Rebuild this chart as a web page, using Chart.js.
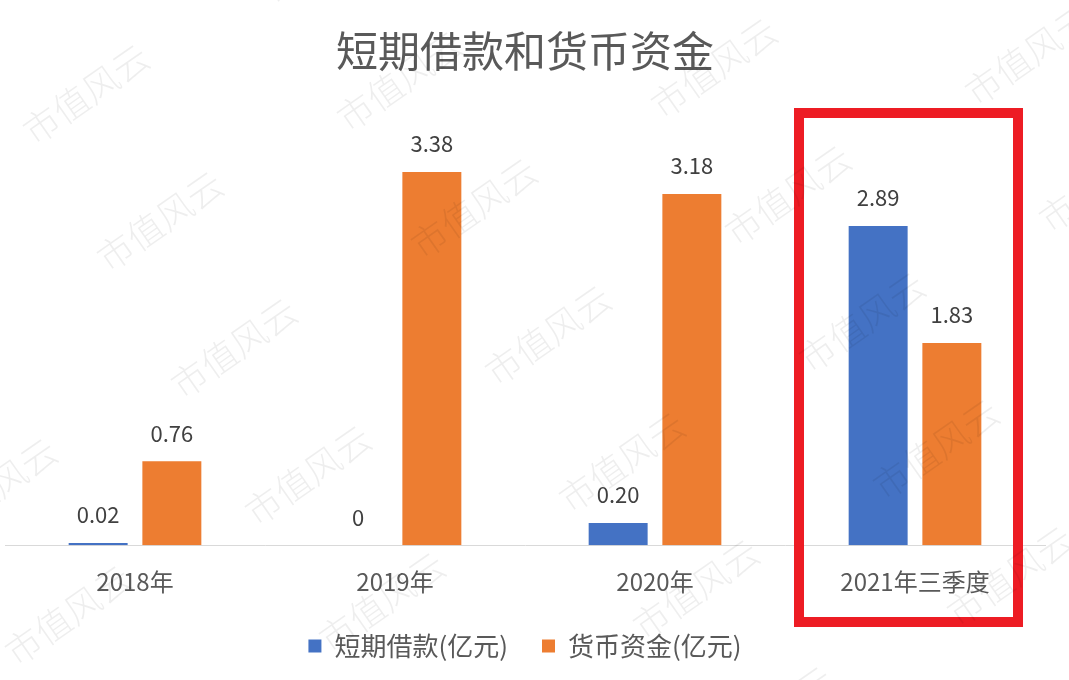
<!DOCTYPE html>
<html>
<head>
<meta charset="utf-8">
<script src="https://cdn.jsdelivr.net/npm/chart.js@4.4.0/dist/chart.umd.min.js"></script>
<style>
  html, body { margin: 0; padding: 0; background: #fff; }
  #wrap { width: 1069px; height: 680px; }
</style>
</head>
<body>
<div id="wrap"><canvas id="cashChart"></canvas></div>
<script>
// chart values
const categories = ['2018年', '2019年', '2020年', '2021年三季度'];
const shortLoans = [0.02, 0, 0.20, 2.89];
const cashFunds = [0.76, 3.38, 3.18, 1.83];
const seriesNames = ['短期借款(亿元)', '货币资金(亿元)'];

const FONT = '"Noto Sans CJK SC", "Noto Sans", sans-serif';

// value labels above each bar
const valueLabels = {
    id: 'valueLabels',
    afterDatasetsDraw (chart) {
        let ctx = chart.ctx;
        ctx.save();
        ctx.font = '22px ' + FONT;
        ctx.fillStyle = '#404040';
        ctx.textAlign = 'center';
        ctx.textBaseline = 'middle';
        chart.data.datasets.forEach((ds, i) => {
            chart.getDatasetMeta(i).data.forEach((bar, j) => {
                let v = ds.data[j];
                let txt = v === 0 ? '0' : v.toFixed(2);
                ctx.fillText(txt, bar.x, bar.y - 28);
            });
        });
        ctx.restore();
    }
};

// red highlight box round the last category + watermark
const overlay = {
    id: 'overlay',
    afterDraw (chart) {
        let ctx = chart.ctx;
        let x = chart.scales.x;
        let cx = x.getPixelForValue(categories.length - 1);
        ctx.save();
        ctx.strokeStyle = '#ED1C24';
        ctx.lineWidth = 10;
        ctx.strokeRect(cx - 116, 113, 219, 509);

        ctx.font = '300 36px ' + FONT;
        ctx.fillStyle = 'rgba(0,0,0,0.065)';
        ctx.textAlign = 'center';
        ctx.textBaseline = 'middle';
        for (let r = -2; r < 7; r++) {
            for (let c = -2; c < 5; c++) {
                let px = 86 + 314 * c + 74 * r;
                let py = 94 - 13 * c + 127 * r;
                if (px < -150 || px > 1220 || py < -80 || py > 760) continue;
                ctx.save();
                ctx.translate(px, py);
                ctx.rotate(-35 * Math.PI / 180);
                ctx.fillText('市值风云', 0, 0);
                ctx.restore();
            }
        }
        ctx.restore();
    }
};

let ctx = document.getElementById('cashChart');
let chartData = {
    labels: categories,
    datasets: [
        {
            label: seriesNames[0],
            data: shortLoans,
            backgroundColor: '#4472C4'
        },
        {
            label: seriesNames[1],
            data: cashFunds,
            backgroundColor: '#ED7D31'
        }
    ]
};

new Chart(ctx, {
    type: 'bar',
    data: chartData,
    plugins: [valueLabels, overlay],
    options: {
        responsive: true,
        maintainAspectRatio: false,
        animation: false,
        datasets: {
            bar: {
                categoryPercentage: 0.567,
                barPercentage: 0.8
            }
        },
        layout: {
            padding: { left: 5, right: 24, top: 0, bottom: 11 }
        },
        scales: {
            x: {
                grid: { display: false, drawTicks: false },
                border: { display: true, color: '#d9d9d9', width: 1 },
                ticks: {
                    color: '#595959',
                    padding: 22,
                    font: { family: FONT, size: 24 }
                },
                afterFit (scale) {
                    scale.height -= 19;
                }
            },
            y: {
                display: false,
                min: 0,
                max: 4
            }
        },
        plugins: {
            title: {
                display: true,
                text: '短期借款和货币资金',
                color: '#595959',
                font: { family: FONT, size: 42, weight: 'normal' },
                padding: { top: 26, bottom: 27 }
            },
            legend: {
                position: 'bottom',
                labels: {
                    color: '#595959',
                    boxWidth: 13,
                    boxHeight: 13,
                    padding: 34,
                    font: { family: FONT, size: 26 }
                }
            },
            tooltip: { enabled: false }
        }
    }
});
</script>
</body>
</html>
